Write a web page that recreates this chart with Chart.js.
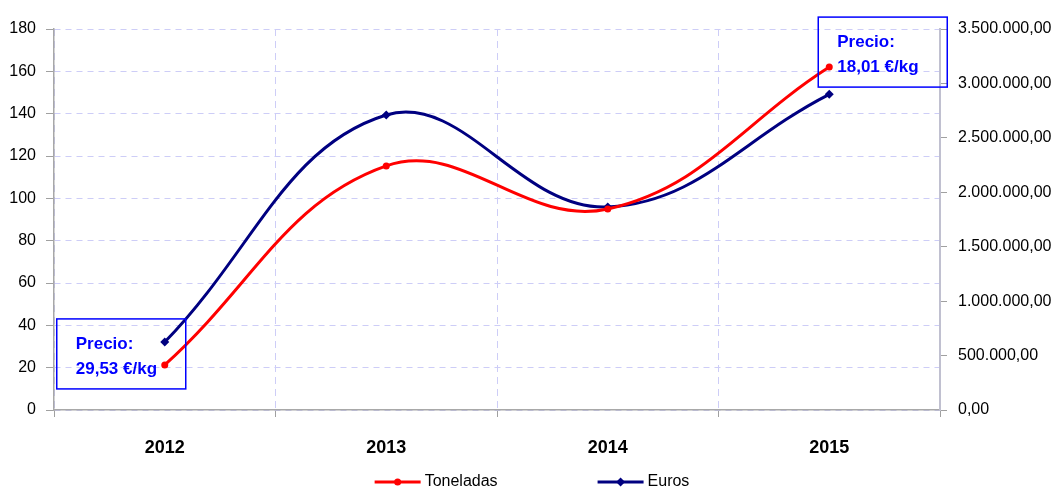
<!DOCTYPE html>
<html>
<head>
<meta charset="utf-8">
<script src="https://cdn.jsdelivr.net/npm/chart.js@4/dist/chart.umd.min.js"></script>
<style>
  html, body { margin: 0; padding: 0; background: #fff; }
  #wrap { width: 1056px; height: 491px; }
</style>
</head>
<body>
<div id="wrap"><canvas id="chart"></canvas></div>
<script>
const years = ['2012', '2013', '2014', '2015']
const toneladas = [21.3, 115.3, 95.0, 162.0]
const euros = [624000, 2710000, 1865000, 2900000]
const precios = [
    { index: 0, lines: ['Precio:', '29,53 €/kg'] },
    { index: 3, lines: ['Precio:', '18,01 €/kg'] }
]

const FONT = "'Liberation Sans', Arial, sans-serif"
const GRID = '#cdcdf7'

function formatEs(value) {
    var parts = Number(value).toFixed(2).split('.')
    parts[0] = parts[0].replace(/\B(?=(\d{3})+(?!\d))/g, '.')
    return parts.join(',')
}

// boxes with the price, hung on the Toneladas point of that year
const precioBoxes = {
    id: 'precioBoxes',
    afterDatasetsDraw(chart) {
        var ctx = chart.ctx
        var x = chart.scales.x
        var y = chart.scales.y
        ctx.save()
        precios.forEach(function (p) {
            var px = x.getPixelForValue(p.index)
            var py = y.getPixelForValue(toneladas[p.index])
            var left, top
            if (p.index === 0) {
                left = px - 108
                top = py - 46
            } else {
                left = px - 11
                top = py - 50
            }
            ctx.strokeStyle = '#0000ff'
            ctx.lineWidth = 1.5
            ctx.strokeRect(left, top, 129, 70)
            ctx.fillStyle = '#0000ff'
            ctx.font = 'bold 17px ' + FONT
            ctx.textBaseline = 'alphabetic'
            ctx.textAlign = 'left'
            ctx.fillText(p.lines[0], left + 19, top + 30)
            ctx.fillText(p.lines[1], left + 19, top + 55)
        })
        ctx.restore()
    }
}

// legend: line with its marker, then the series name
const bottomLegend = {
    id: 'bottomLegend',
    afterDraw(chart) {
        var ctx = chart.ctx
        var sets = chart.data.datasets
        var gap = 100
        ctx.save()
        ctx.font = '16px ' + FONT
        var widths = sets.map(function (d) { return 50 + ctx.measureText(d.label).width })
        var total = widths.reduce(function (a, b) { return a + b }, 0) + gap * (sets.length - 1)
        var x = (chart.width - total) / 2 + 4
        var y = 482
        sets.forEach(function (d, i) {
            ctx.strokeStyle = d.borderColor
            ctx.lineWidth = 3
            ctx.beginPath()
            ctx.moveTo(x, y)
            ctx.lineTo(x + 46, y)
            ctx.stroke()
            ctx.fillStyle = d.borderColor
            ctx.beginPath()
            if (d.pointStyle === 'circle') {
                ctx.arc(x + 23, y, 3.5, 0, Math.PI * 2)
            } else {
                ctx.moveTo(x + 23, y - 4.5)
                ctx.lineTo(x + 27.5, y)
                ctx.lineTo(x + 23, y + 4.5)
                ctx.lineTo(x + 18.5, y)
                ctx.closePath()
            }
            ctx.fill()
            ctx.fillStyle = '#000'
            ctx.textBaseline = 'middle'
            ctx.textAlign = 'left'
            ctx.fillText(d.label, x + 50, y)
            x += widths[i] + gap
        })
        ctx.restore()
    }
}

new Chart(document.getElementById('chart'), {
    type: 'line',
    data: {
        labels: years,
        datasets: [{
            label: 'Toneladas',
            data: toneladas,
            yAxisID: 'y',
            borderColor: '#ff0000',
            backgroundColor: '#ff0000',
            borderWidth: 3,
            pointStyle: 'circle',
            pointRadius: 3.5,
            pointBorderWidth: 0,
            tension: 0.4,
            order: 1
        }, {
            label: 'Euros',
            data: euros,
            yAxisID: 'y1',
            borderColor: '#000080',
            backgroundColor: '#000080',
            borderWidth: 3,
            pointStyle: 'rectRot',
            pointRadius: 4.5,
            pointBorderWidth: 0,
            tension: 0.4,
            order: 2
        }]
    },
    options: {
        responsive: true,
        maintainAspectRatio: false,
        animation: false,
        layout: { padding: { top: 29, left: 0, right: 0, bottom: 0 } },
        plugins: {
            tooltip: { enabled: false },
            legend: { display: false }
        },
        scales: {
            x: {
                offset: true,
                grid: {
                    offset: true,
                    color: GRID,
                    tickColor: '#a0a0a0',
                    tickLength: 7,
                    tickBorderDash: []
                },
                border: { color: '#a8a8a8', width: 1.5, dash: [7, 5] },
                ticks: {
                    color: '#000',
                    padding: 20,
                    font: { family: FONT, size: 18, weight: 'bold' }
                },
                afterFit: function (scale) { scale.height = 81 }
            },
            y: {
                position: 'left',
                min: 0,
                max: 180,
                ticks: {
                    stepSize: 20,
                    color: '#000',
                    padding: 10,
                    font: { family: FONT, size: 16 }
                },
                grid: {
                    color: GRID,
                    tickColor: '#a0a0a0',
                    tickLength: 8,
                    tickBorderDash: []
                },
                border: { color: '#a8a8a8', width: 1.5, dash: [6, 5] },
                afterFit: function (scale) { scale.width = 54 }
            },
            y1: {
                position: 'right',
                min: 0,
                max: 3500000,
                ticks: {
                    stepSize: 500000,
                    color: '#000',
                    padding: 11,
                    font: { family: FONT, size: 16 },
                    callback: function (value) { return formatEs(value) }
                },
                grid: {
                    drawOnChartArea: false,
                    color: '#a0a0a0',
                    tickLength: 7
                },
                border: { color: '#c0c0d0', width: 2 },
                afterFit: function (scale) { scale.width = 116 }
            }
        }
    },
    plugins: [precioBoxes, bottomLegend]
})
</script>
</body>
</html>
